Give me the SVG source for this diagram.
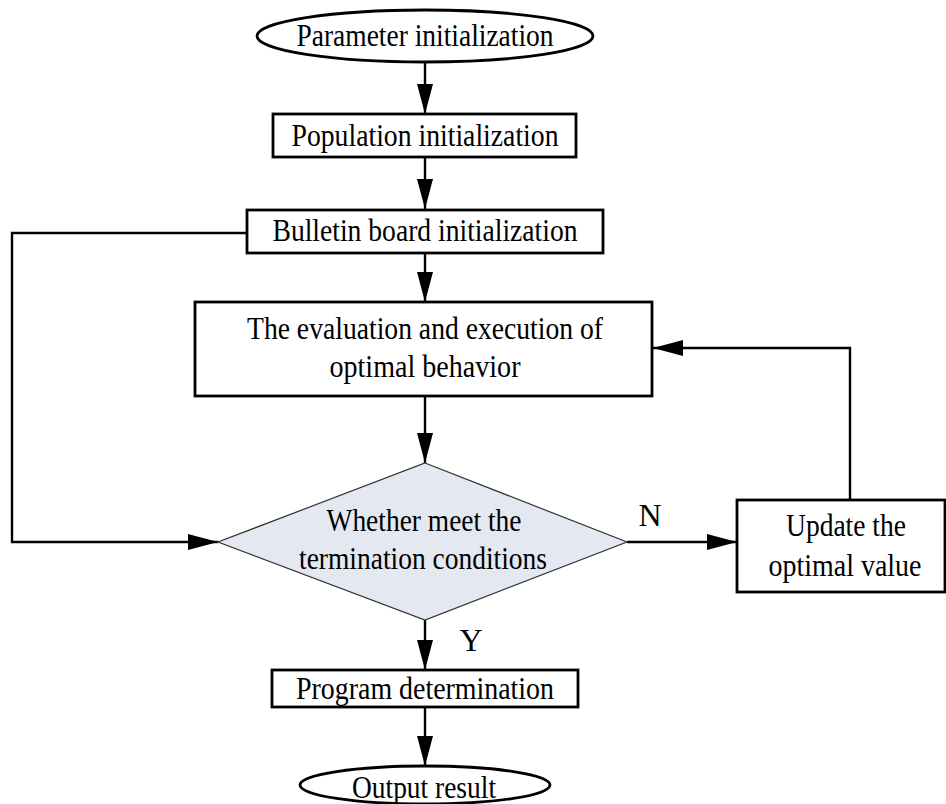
<svg xmlns="http://www.w3.org/2000/svg" width="946" height="804" viewBox="0 0 946 804">
<style>
text{font-family:"Liberation Serif","Times New Roman",serif;font-size:32px;fill:#000;text-anchor:middle}
.box{fill:#fff;stroke:#000;stroke-width:2.8}
.dia{fill:#e4e8f1;stroke:#333;stroke-width:1.2}
.ln{fill:none;stroke:#000;stroke-width:2.4}
</style>
<defs>
<marker id="ah" viewBox="0 0 30 16" refX="30" refY="8" markerWidth="30" markerHeight="16" markerUnits="userSpaceOnUse" orient="auto">
<path d="M0,0 L30,8 L0,16 Z" fill="#000"/>
</marker>
</defs>
<g id="connectors">
<path class="ln" d="M425,62 V114" marker-end="url(#ah)"/>
<path class="ln" d="M425,157 V209" marker-end="url(#ah)"/>
<path class="ln" d="M425,253 V302" marker-end="url(#ah)"/>
<path class="ln" d="M425,396 V463" marker-end="url(#ah)"/>
<path class="ln" d="M247,233 H12 V542 H218" marker-end="url(#ah)"/>
<path class="ln" d="M627,542 H737" marker-end="url(#ah)"/>
<path class="ln" d="M850,500 V348 H653" marker-end="url(#ah)"/>
<path class="ln" d="M425,620 V670" marker-end="url(#ah)"/>
<path class="ln" d="M425,707 V766" marker-end="url(#ah)"/>
<text x="650" y="526">N</text>
<text x="471" y="651">Y</text>
</g>
<g id="n1">
<ellipse class="box" cx="425" cy="36" rx="168" ry="26"/>
<text x="425" y="46" textLength="257" lengthAdjust="spacingAndGlyphs">Parameter initialization</text>
</g>
<g id="n2">
<rect class="box" x="273" y="114" width="303" height="43"/>
<text x="425" y="146" textLength="267" lengthAdjust="spacingAndGlyphs">Population initialization</text>
</g>
<g id="n3">
<rect class="box" x="247" y="210" width="356" height="43"/>
<text x="425" y="241" textLength="305" lengthAdjust="spacingAndGlyphs">Bulletin board initialization</text>
</g>
<g id="n4">
<rect class="box" x="195" y="302" width="457" height="94"/>
<text x="425" y="339" textLength="356" lengthAdjust="spacingAndGlyphs">The evaluation and execution of</text>
<text x="425" y="377" textLength="191" lengthAdjust="spacingAndGlyphs">optimal behavior</text>
</g>
<g id="n5">
<polygon class="dia" points="425,463 627,542 425,620 218,542"/>
<text x="424" y="531" textLength="195" lengthAdjust="spacingAndGlyphs">Whether meet the</text>
<text x="423" y="569" textLength="248" lengthAdjust="spacingAndGlyphs">termination conditions</text>
</g>
<g id="n6">
<rect class="box" x="737" y="500" width="208" height="92"/>
<text x="846" y="536" textLength="120" lengthAdjust="spacingAndGlyphs">Update the</text>
<text x="845" y="576" textLength="153" lengthAdjust="spacingAndGlyphs">optimal value</text>
</g>
<g id="n7">
<rect class="box" x="272" y="670" width="306" height="37"/>
<text x="425" y="699" textLength="258" lengthAdjust="spacingAndGlyphs">Program determination</text>
</g>
<g id="n8">
<ellipse class="box" cx="425" cy="785" rx="125" ry="19"/>
<text x="424" y="798" textLength="144" lengthAdjust="spacingAndGlyphs">Output result</text>
</g>
</svg>
